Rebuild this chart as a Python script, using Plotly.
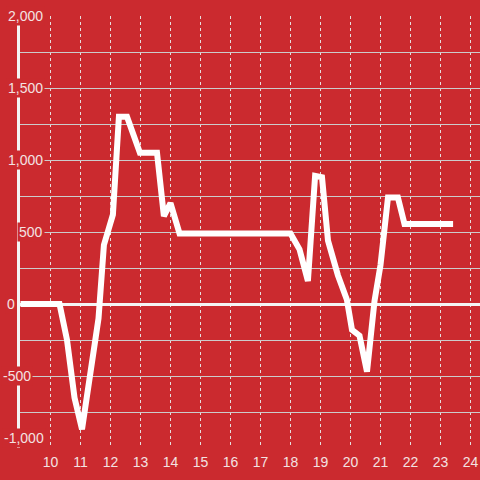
import plotly.graph_objects as go

# data
hours = [9.0, 10.3, 10.55, 10.8, 11.05, 11.35, 11.6, 11.78, 12.08, 12.28, 12.55,
         12.98, 13.55, 13.78, 14.0, 14.3, 18.0, 18.3, 18.58, 18.82, 19.05, 19.25,
         19.58, 19.88, 20.05, 20.3, 20.55, 20.8, 21.0, 21.25, 21.58, 21.8, 23.42]
values = [0, 0, -250, -650, -870, -450, -100, 410, 620, 1300, 1300,
          1050, 1050, 610, 700, 490, 490, 380, 160, 890, 880, 440,
          200, 30, -180, -220, -470, 20, 270, 740, 740, 555, 555]

x_ticks = list(range(10, 25))
y_label_vals = [2000, 1500, 1000, 500, 0, -500, -1000]
y_label_text = ["2,000", "1,500", "1,000", "500", "0", "-500", "-1,000"]
# right edge of each label box, in pixels from the plot's left edge
label_right = [25, 25, 25, 25, -3, 13, 26]

BG = "#cb2a2f"
TXT = "#f3e2e2"
FONT = "Liberation Sans, Arial, sans-serif"

fig = go.Figure()
fig.add_trace(go.Scatter(x=hours, y=values, mode="lines",
                         line=dict(color="#ffffff", width=6),
                         hoverinfo="skip", showlegend=False))

annotations = []
for v, t, r in zip(y_label_vals, y_label_text, label_right):
    annotations.append(dict(
        x=0, xref="paper", y=v, yref="y", xshift=r,
        text=t, showarrow=False, xanchor="right",
        yanchor="bottom" if v == -1000 else "middle",
        bgcolor=BG, borderpad=1,
        font=dict(family=FONT, size=14, color=TXT)))

fig.update_layout(
    width=480, height=480,
    margin=dict(l=20, r=0, t=16, b=32, autoexpand=False),
    paper_bgcolor=BG, plot_bgcolor=BG,
    font=dict(family=FONT, size=14, color=TXT),
    annotations=annotations,
    xaxis=dict(range=[8.983, 24.317], tickvals=x_ticks,
               ticktext=[str(v) for v in x_ticks], automargin=False,
               showgrid=True, gridcolor="#e6dede", gridwidth=1,
               griddash="3px,3px", zeroline=False, showline=False,
               ticks="", ticklabelstandoff=4,
               tickfont=dict(family=FONT, size=14, color=TXT)),
    yaxis=dict(range=[-1000, 2000], dtick=250, showticklabels=False,
               automargin=False,
               showgrid=True, gridcolor="#cccccc", gridwidth=1.2,
               zeroline=True, zerolinecolor="#f4f4f4", zerolinewidth=3,
               showline=True, linecolor="#f4f4f4", linewidth=3,
               ticks=""),
)

fig.write_html("out.html", config={"displayModeBar": False},
               post_script="document.body.style.margin='0';document.body.style.padding='0';")
